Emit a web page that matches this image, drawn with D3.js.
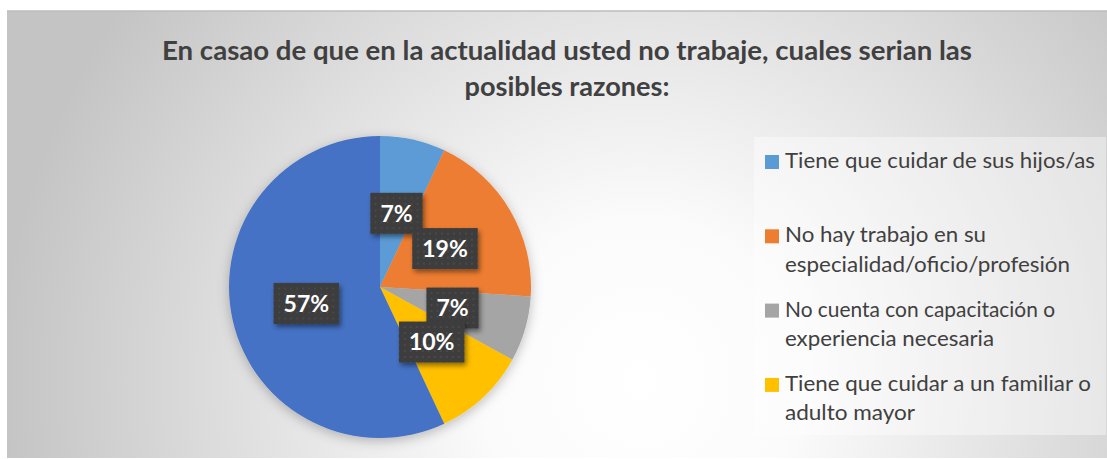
<!DOCTYPE html>
<html>
<head>
<meta charset="utf-8">
<script src="https://cdn.jsdelivr.net/npm/d3@7"></script>
<style>
  html, body { margin: 0; padding: 0; background: #ffffff; }
  svg { display: block; }
</style>
</head>
<body>
<div id="chart"></div>
<script>
// Chart data
const titleLines = ["En casao de que en la actualidad usted no trabaje, cuales serian las", "posibles razones:"];
const categories = [
  "Tiene que cuidar de sus hijos/as",
  "No hay trabajo en su especialidad/oficio/profesión",
  "No cuenta con capacitación o experiencia necesaria",
  "Tiene que cuidar a un familiar o adulto mayor",
  "Otro"
];
const values = [7, 19, 7, 10, 57];
const valueLabels = ["7%", "19%", "7%", "10%", "57%"];
// legend shows only the first four categories, wrapped as in the original
const legendLines = [
  ["Tiene que cuidar de sus hijos/as"],
  ["No hay trabajo en su", "especialidad/oficio/profesión"],
  ["No cuenta con capacitación o", "experiencia necesaria"],
  ["Tiene que cuidar a un familiar o", "adulto mayor"]
];
const colors = ["#5B9BD5", "#ED7D31", "#A5A5A5", "#FFC000", "#4472C4"];

const WIDTH = 1107, HEIGHT = 459;
const FRAME = {X: 7, Y: 11, W: 1100, H: 447};
const PIE = {CX: 380, CY: 287, R: 151};
const FONT = "Lato, 'Open Sans', 'Liberation Sans', sans-serif";

const svg = d3.select("#chart").append("svg")
  .attr("width", WIDTH)
  .attr("height", HEIGHT);

const defs = svg.append("defs");

// background radial gradient
const bg = defs.append("radialGradient")
  .attr("id", "bgGrad")
  .attr("gradientUnits", "userSpaceOnUse")
  .attr("cx", 640).attr("cy", 380).attr("r", 640);
bg.append("stop").attr("offset", "0").attr("stop-color", "#ffffff");
bg.append("stop").attr("offset", "0.25").attr("stop-color", "#fbfbfb");
bg.append("stop").attr("offset", "1").attr("stop-color", "#c4c4c4");

// dotted pattern for data label boxes
const pat = defs.append("pattern")
  .attr("id", "dots")
  .attr("patternUnits", "userSpaceOnUse")
  .attr("width", 6).attr("height", 6);
pat.append("rect").attr("width", 6).attr("height", 6).attr("fill", "#3c3c3c");
pat.append("rect").attr("x", 2).attr("y", 2).attr("width", 2).attr("height", 2).attr("fill", "#4a4a4a");

const shadow = defs.append("filter").attr("id", "shadow")
  .attr("x", "-30%").attr("y", "-30%").attr("width", "160%").attr("height", "160%");
shadow.append("feDropShadow")
  .attr("dx", 2).attr("dy", 3).attr("stdDeviation", 2.5)
  .attr("flood-color", "#000").attr("flood-opacity", 0.45);

const pieShadow = defs.append("filter").attr("id", "pieShadow")
  .attr("x", "-20%").attr("y", "-20%").attr("width", "140%").attr("height", "140%");
pieShadow.append("feDropShadow")
  .attr("dx", 0).attr("dy", 3).attr("stdDeviation", 6)
  .attr("flood-color", "#000").attr("flood-opacity", 0.25);

// chart frame
svg.append("rect")
  .attr("x", FRAME.X).attr("y", FRAME.Y)
  .attr("width", FRAME.W).attr("height", FRAME.H)
  .attr("fill", "url(#bgGrad)");
svg.append("line")
  .attr("x1", FRAME.X).attr("x2", FRAME.X + FRAME.W)
  .attr("y1", FRAME.Y).attr("y2", FRAME.Y)
  .attr("stroke", "#bdbdbd").attr("stroke-width", 1.5);

// title
const titleWidths = [810, 205];
svg.selectAll(".title")
  .data(titleLines)
  .enter()
  .append("text")
  .attr("class", "title")
  .attr("x", 567)
  .attr("y", (d, i) => 60 + i * 36)
  .attr("text-anchor", "middle")
  .attr("font-family", FONT)
  .attr("font-weight", "bold")
  .attr("font-size", 26)
  .attr("fill", "#404040")
  .attr("textLength", (d, i) => titleWidths[i])
  .attr("lengthAdjust", "spacingAndGlyphs")
  .text((d) => d);

// pie
const pie = d3.pie().sort(null).value((d) => d);
const arc = d3.arc().innerRadius(0).outerRadius(PIE.R);
const arcs = pie(values);

const g = svg.append("g")
  .attr("transform", "translate(" + PIE.CX + "," + PIE.CY + ")");

g.append("g")
  .attr("filter", "url(#pieShadow)")
  .selectAll("path")
  .data(arcs)
  .enter()
  .append("path")
  .attr("d", arc)
  .attr("fill", (d, i) => colors[i]);

// data labels
const lab = g.selectAll(".lbl")
  .data(arcs)
  .enter()
  .append("g")
  .attr("class", "lbl")
  .attr("transform", (d) => "translate(" + arc.centroid(d) + ")");

lab.append("rect").attr("class", "box");
lab.append("text")
  .attr("text-anchor", "middle")
  .attr("dy", "0.36em")
  .attr("font-family", FONT)
  .attr("font-weight", "bold")
  .attr("font-size", 23)
  .attr("fill", "#ffffff")
  .text((d, i) => valueLabels[i]);

lab.each(function () {
  const t = d3.select(this).select("text").node().getBBox();
  const w = t.width + 20, h = 41;
  d3.select(this).select("rect")
    .attr("x", -w / 2).attr("y", -h / 2)
    .attr("width", w).attr("height", h)
    .attr("fill", "url(#dots)")
    .attr("filter", "url(#shadow)");
});

// legend
svg.append("rect")
  .attr("x", 754).attr("y", 137)
  .attr("width", 352).attr("height", 298)
  .attr("fill", "#ffffff").attr("fill-opacity", 0.4);

const legendWidths = [
  [310],
  [201, 285],
  [270, 209],
  [306, 130]
];
const leg = svg.selectAll(".leg")
  .data(legendLines)
  .enter()
  .append("g")
  .attr("class", "leg")
  .attr("transform", (d, i) => "translate(765," + (168 + i * 74.3) + ")");

leg.append("rect")
  .attr("x", 0).attr("y", -13)
  .attr("width", 14).attr("height", 14)
  .attr("fill", (d, i) => colors[i]);

leg.each(function (lines, i) {
  d3.select(this).selectAll("text")
    .data(lines)
    .enter()
    .append("text")
    .attr("x", 20)
    .attr("y", (d, j) => j * 29.5)
    .attr("font-family", FONT)
    .attr("font-size", 21)
    .attr("fill", "#404040")
    .attr("textLength", (d, j) => legendWidths[i][j])
    .attr("lengthAdjust", "spacingAndGlyphs")
    .text((d) => d);
});
</script>
</body>
</html>
